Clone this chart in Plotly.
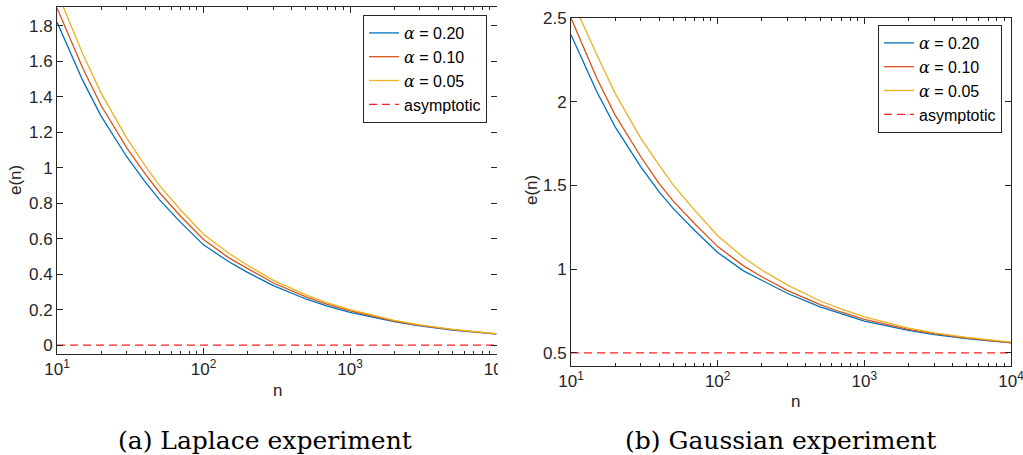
import plotly.graph_objects as go

# ---------------- data ----------------
n_vals = [10, 15, 20, 30, 40, 50, 70, 100, 150, 200, 300, 500, 700, 1000, 2000, 3000, 5000, 10000]

lap_a20 = [1.82, 1.49, 1.29, 1.06, 0.92, 0.82, 0.69, 0.565, 0.468, 0.41, 0.335, 0.26, 0.22, 0.185, 0.132, 0.108, 0.085, 0.062]
lap_a10 = [1.90, 1.56, 1.35, 1.11, 0.965, 0.86, 0.725, 0.595, 0.49, 0.43, 0.35, 0.272, 0.23, 0.193, 0.136, 0.111, 0.087, 0.063]
lap_a05 = [1.99, 1.64, 1.42, 1.165, 1.01, 0.90, 0.76, 0.625, 0.515, 0.45, 0.365, 0.283, 0.238, 0.20, 0.14, 0.114, 0.089, 0.064]

gau_a20 = [2.40, 2.06, 1.85, 1.61, 1.46, 1.36, 1.23, 1.10, 0.99, 0.935, 0.855, 0.775, 0.732, 0.69, 0.635, 0.61, 0.585, 0.56]
gau_a10 = [2.50, 2.14, 1.92, 1.67, 1.51, 1.405, 1.27, 1.135, 1.02, 0.955, 0.872, 0.788, 0.743, 0.70, 0.641, 0.615, 0.589, 0.562]
gau_a05 = [2.62, 2.28, 2.05, 1.78, 1.62, 1.50, 1.35, 1.20, 1.07, 0.995, 0.905, 0.81, 0.762, 0.715, 0.648, 0.62, 0.593, 0.565]

asym_lap = 0.0
asym_gau = 0.5

series_labels = ["0.20", "0.10", "0.05"]
colors = ["#0072BD", "#D95319", "#EDB120"]

x_tickvals = [10, 100, 1000, 10000]
x_ticktext = ["10<sup>1</sup>", "10<sup>2</sup>", "10<sup>3</sup>", "10<sup>4</sup>"]
x_minor = [m * d for d in (10, 100, 1000) for m in range(2, 10)]
lap_yticks = [0, 0.2, 0.4, 0.6, 0.8, 1.0, 1.2, 1.4, 1.6, 1.8]
lap_yticktext = ["0", "0.2", "0.4", "0.6", "0.8", "1", "1.2", "1.4", "1.6", "1.8"]
gau_yticks = [0.5, 1.0, 1.5, 2.0, 2.5]
gau_yticktext = ["0.5", "1", "1.5", "2", "2.5"]

captions = ["(a) Laplace experiment", "(b) Gaussian experiment"]

# ---------------- figure ----------------
W, H = 1023, 455
def px(x):
    return x / W
def py(y):
    return 1 - y / H

AX = "#262626"
FONT = "Liberation Sans, Arial, sans-serif"

fig = go.Figure()

def alpha_label(v):
    return "<span style='font-family:DejaVu Serif'><i>α</i></span> = " + v

for ys, lab, col in zip([lap_a20, lap_a10, lap_a05], series_labels, colors):
    fig.add_trace(go.Scatter(x=n_vals, y=ys, mode="lines", name=alpha_label(lab),
                             line=dict(color=col, width=1.3), xaxis="x", yaxis="y",
                             legend="legend"))
fig.add_trace(go.Scatter(x=[n_vals[0], n_vals[-1]], y=[asym_lap, asym_lap], mode="lines",
                         name="asymptotic", line=dict(color="#FF2020", width=1.3, dash="8px,5px"),
                         xaxis="x", yaxis="y", legend="legend"))
# invisible trace so the right-hand tick axis of panel (a) renders
fig.add_trace(go.Scatter(x=[n_vals[0], n_vals[-1]], y=[asym_lap, asym_lap], mode="lines",
                         opacity=0, showlegend=False, hoverinfo="skip", xaxis="x", yaxis="y3"))

for ys, lab, col in zip([gau_a20, gau_a10, gau_a05], series_labels, colors):
    fig.add_trace(go.Scatter(x=n_vals, y=ys, mode="lines", name=alpha_label(lab),
                             line=dict(color=col, width=1.3), xaxis="x2", yaxis="y2",
                             legend="legend2"))
fig.add_trace(go.Scatter(x=[n_vals[0], n_vals[-1]], y=[asym_gau, asym_gau], mode="lines",
                         name="asymptotic", line=dict(color="#FF2020", width=1.3, dash="8px,5px"),
                         xaxis="x2", yaxis="y2", legend="legend2"))

common_x = dict(type="log", tickvals=x_tickvals, ticktext=x_ticktext, ticks="inside",
                ticklen=6, tickwidth=1, tickcolor=AX, showline=True, linecolor=AX, linewidth=1,
                mirror="ticks", showgrid=False, zeroline=False, automargin=False,
                ticklabeloverflow="allow",
                tickfont=dict(family=FONT, size=17, color=AX),
                minor=dict(tickvals=x_minor, ticks="inside", ticklen=3, tickcolor=AX, showgrid=False))
common_y = dict(ticks="inside", ticklen=6, tickwidth=1, tickcolor=AX, showline=True, linecolor=AX,
                linewidth=1, showgrid=False, zeroline=False, automargin=False,
                tickfont=dict(family=FONT, size=17, color=AX))

legend_common = dict(bgcolor="white", bordercolor=AX, borderwidth=1,
                     font=dict(family=FONT, size=16, color="black"),
                     itemwidth=30, tracegroupgap=0, xanchor="right", yanchor="top")

fig.update_layout(
    width=W, height=H, margin=dict(l=0, r=0, t=0, b=0, autoexpand=False),
    paper_bgcolor="white", plot_bgcolor="white",
    xaxis=dict(common_x, domain=[px(57), px(496.5)], range=[1, 4], anchor="y"),
    yaxis=dict(common_y, domain=[py(354), py(7)], range=[-0.05, 1.905], anchor="x",
               tickvals=lap_yticks, ticktext=lap_yticktext),
    yaxis3=dict(overlaying="y", side="right", anchor="x", range=[-0.05, 1.905],
                tickvals=lap_yticks, ticks="inside", ticklen=6, tickcolor=AX, automargin=False,
                showticklabels=False, showline=False, showgrid=False, zeroline=False),
    xaxis2=dict(common_x, domain=[px(571), px(1011)], range=[1, 4], anchor="y2"),
    yaxis2=dict(common_y, domain=[py(366), py(18)], range=[0.422, 2.5], anchor="x2",
                tickvals=gau_yticks, ticktext=gau_yticktext, mirror="ticks"),
    legend=dict(legend_common, x=px(487), y=py(15)),
    legend2=dict(legend_common, x=px(1002), y=py(25)),
    showlegend=True,
)

# axis titles
ann = []
ann.append(dict(text="e(n)", x=px(16), y=py(180), textangle=-90))
ann.append(dict(text="n", x=px(277), y=py(390)))
ann.append(dict(text="e(n)", x=px(531), y=py(190), textangle=-90))
ann.append(dict(text="n", x=px(795), y=py(401)))
for a in ann:
    fig.add_annotation(xref="paper", yref="paper", showarrow=False, xanchor="center",
                       yanchor="middle", font=dict(family=FONT, size=17, color=AX), **a)

for cap, cx in zip(captions, [265, 780]):
    fig.add_annotation(text=cap, xref="paper", yref="paper", x=px(cx), y=py(440),
                       showarrow=False, xanchor="center", yanchor="middle",
                       font=dict(family="DejaVu Serif, serif", size=25, color="black"))

# crop the left panel at its right edge like the reference
fig.add_shape(type="rect", xref="paper", yref="paper", x0=px(498), x1=px(512), y0=py(455), y1=py(0),
              fillcolor="white", line=dict(width=0), layer="above")

fig.write_html("out.html", config={"displayModeBar": False},
               post_script="document.body.style.margin='0';document.body.style.overflow='hidden';")
